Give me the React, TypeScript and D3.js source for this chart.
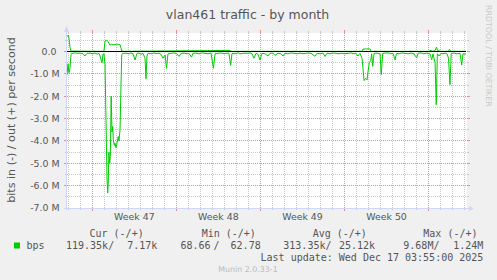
import React from "react";
import * as d3 from "d3";

// ---- data ----
const chartTitle = "vlan461 traffic - by month";
const yAxisLabel = "bits in (-) / out (+) per second";
const weekLabels = ["Week 47", "Week 48", "Week 49", "Week 50"];
const weekStarts = [0, 7, 14, 21, 28];
const yTickValues = [0, -1, -2, -3, -4, -5, -6, -7];

// days relative to Mon 17 Nov 2025 00:00, values in Mbit/s (in = negative)
const inDays = [
  -2.11, -2.02, -1.94, -1.86, -1.77, -1.69, -1.44, -1.19, -1.02, -0.77, -0.61, -0.44, -0.19, 0.06, 0.22, 0.39,
  0.56, 0.64, 0.81, 0.89, 0.97, 1.06, 1.14, 1.22, 1.28, 1.33, 1.38, 1.45, 1.5, 1.57, 1.64, 1.7, 1.75, 1.83,
  1.89, 1.97, 2.06, 2.16, 2.22, 2.31, 2.39, 2.45, 2.53, 2.81, 3.06, 3.22, 3.39, 3.56, 3.72, 3.89, 4.06, 4.22,
  4.39, 4.47, 4.55, 4.64, 4.89, 5.14, 5.39, 5.55, 5.72, 5.89, 6.06, 6.18, 6.3, 6.55, 6.8, 7.05, 7.22, 7.39,
  7.64, 7.89, 8.05, 8.26, 8.38, 8.63, 8.88, 9.13, 9.38, 9.63, 9.88, 10.09, 10.22, 10.47, 10.72, 10.97, 11.22,
  11.38, 11.52, 11.63, 11.88, 12.13, 12.38, 12.63, 12.88, 13.13, 13.3, 13.46, 13.63, 13.8, 13.96, 14.13, 14.38,
  14.63, 14.8, 15.05, 15.21, 15.46, 15.71, 15.88, 16.05, 16.3, 16.55, 16.8, 17.05, 17.29, 17.54, 17.79, 18.04,
  18.29, 18.54, 18.71, 18.96, 19.21, 19.38, 19.54, 19.79, 20.04, 20.29, 20.54, 20.79, 21.04, 21.29, 21.54,
  21.79, 21.96, 22.12, 22.29, 22.46, 22.63, 22.75, 22.88, 22.96, 23.06, 23.18, 23.26, 23.35, 23.46, 23.71,
  23.96, 24.06, 24.18, 24.37, 24.62, 24.87, 25.04, 25.21, 25.33, 25.54, 25.79, 26.04, 26.29, 26.54, 26.79,
  27.01, 27.12, 27.37, 27.62, 27.87, 28.12, 28.26, 28.37, 28.54, 28.64, 28.73, 28.87, 29.04, 29.2, 29.37,
  29.54, 29.66, 29.78, 29.89, 30.12, 30.37, 30.62, 30.76, 30.87, 31.04, 31.12,
];
const inValues = [
  -1.05, -0.55, -0.95, -0.75, -0.12, -0.08, -0.06, -0.08, -0.07, -0.1, -0.2, -0.08, -0.07, -0.1, -0.06, -0.12,
  -0.08, -0.2, -0.5, -0.12, -0.1, -0.6, -3.0, -5.6, -6.33, -5.9, -4.5, -5.0, -4.7, -2.0, -3.6, -3.35, -3.95, -4.2,
  -4.1, -4.3, -4.1, -3.8, -4.0, -3.5, -1.5, -0.15, -0.08, -0.07, -0.1, -0.06, -0.1, -0.38, -0.08, -0.07, -0.12, -0.08,
  -0.3, -1.22, -0.2, -0.08, -0.1, -0.06, -0.1, -0.07, -0.12, -0.3, -0.15, -0.75, -0.1, -0.08, -0.06, -0.1, -0.22, -0.08,
  -0.07, -0.1, -0.08, -0.25, -0.08, -0.07, -0.1, -0.06, -0.08, -0.1, -0.07, -0.75, -0.1, -0.08, -0.06, -0.1, -0.07,
  -0.08, -0.62, -0.08, -0.1, -0.06, -0.1, -0.07, -0.08, -0.06, -0.1, -0.3, -0.08, -0.12, -0.38, -0.08, -0.1,
  -0.2, -0.08, -0.07, -0.17, -0.08, -0.1, -0.2, -0.07, -0.1, -0.06, -0.08, -0.1, -0.07, -0.1, -0.08, -0.06,
  -0.1, -0.21, -0.08, -0.1, -0.07, -0.22, -0.08, -0.1, -0.06, -0.08, -0.1, -0.07, -0.1, -0.08, -0.06,
  -0.1, -0.08, -0.2, -0.08, -0.3, -1.3, -1.2, -1.27, -0.9, -0.5, -0.4, -0.1, -0.66, -0.08, -0.07,
  -0.1, -1.03, -0.08, -0.07, -0.06, -0.1, -0.08, -0.37, -0.08, -0.1, -0.06, -0.08, -0.1, -0.07, -0.1,
  -0.29, -0.08, -0.06, -0.1, -0.07, -0.1, -0.37, -0.1, -0.5, -2.38, -0.1, -0.2, -0.08, -0.1, -0.07,
  -0.1, -0.3, -1.48, -0.08, -0.07, -0.1, -0.08, -0.6, -0.1, -0.12, -0.1,
];
const outDays = [
  -2.11, -2.0, -1.94, -1.86, -1.77, 0.97, 1.06, 1.2, 1.31, 1.47, 1.62, 1.72, 1.89, 2.02, 2.16, 2.31, 2.39, 2.47,
  11.47, 11.55, 22.46, 22.54, 23.12, 23.21, 28.04, 28.12, 28.37, 28.54, 28.66, 28.74, 29.04, 29.66, 29.74,
  29.83, 31.12,
];
const outValues = [
  0.66, 0.74, 0.6, 0.2, 0.02, 0.01, 0.48, 0.51, 0.44, 0.29, 0.33, 0.3, 0.31, 0.33, 0.32, 0.31, 0.15, 0.01,
  0.05, 0.01, 0.01, 0.11, 0.12, 0.01, 0.01, 0.05, 0.01, 0.04, 0.2, 0.04, 0.01, 0.01, 0.1,
  0.01, 0.01,
];

const legendHeaders = ["Cur (-/+)", "Min (-/+)", "Avg (-/+)", "Max (-/+)"];
const legendIn = ["119.35k", "68.66", "313.35k", "9.68M"];
const legendOut = ["7.17k", "62.78", "25.12k", "1.24M"];
const seriesName = "bps";
const lastUpdate = "Last update: Wed Dec 17 03:55:00 2025";
const watermark = "Munin 2.0.33-1";
const sideText = "RRDTOOL / TOBI OETIKER";

// ---- layout ----
const W = 497;
const H = 280;
const L = 67;
const R = 467;
const T = 33;
const B = 208;
const GREEN = "#00cc00";
const FONT = "#555555";
const AXIS = "#CFD6F8";
const SANS = "'DejaVu Sans', sans-serif";
const MONO = "'DejaVu Sans Mono', monospace";

const headerX = [89.5, 201.7, 312.7, 423.3];
const inX = [66, 180.5, 283.3, 403.3];
const slashX = [108.2, 213.5, 325.5, 433.5];
const outEndX = [157.3, 260.7, 375, 483.3];

export default function App() {
  const x = d3.scaleLinear().domain([-2.107, 31.2]).range([L, R]);
  const y = d3.scaleLinear().domain([-7, 0.83]).range([B, T]);
  const px = (v: number) => Math.round(v - 0.5) + 0.5;

  const inPts: [number, number][] = inDays.map((d, i) => [d, inValues[i]]);
  const outPts: [number, number][] = outDays.map((d, i) => [d, outValues[i]]);
  const line = d3
    .line<[number, number]>()
    .x((d) => x(d[0]))
    .y((d) => y(d[1]));

  const minorY = d3.range(-7, 0.83, 0.5).filter((v) => Math.abs(v - Math.round(v)) > 0.01);
  const majorY = yTickValues;
  const [d0, d1] = x.domain();
  const minorX = d3.range(Math.ceil(d0), Math.floor(d1) + 1).filter((d) => !weekStarts.includes(d));

  const minorCol = "#c8c8c8";
  const majorCol = "#f08888";

  return (
    <svg width={W} height={H} style={{ display: "block", position: "absolute", left: 0, top: 0 }}>
      <rect x={0} y={0} width={W} height={H} fill="#f0f0f0" />
      <rect x={L} y={T} width={R - L} height={B - T} fill="#ffffff" />

      <g shapeRendering="crispEdges">
        {minorY.map((v) => (
          <g key={"my" + v}>
            <line x1={L} x2={R} y1={px(y(v))} y2={px(y(v))} stroke={minorCol} strokeDasharray="1,1" />
            <line x1={L - 2} x2={L} y1={px(y(v))} y2={px(y(v))} stroke={minorCol} />
            <line x1={R} x2={R + 2} y1={px(y(v))} y2={px(y(v))} stroke={minorCol} />
          </g>
        ))}
        {minorX.map((d) => (
          <g key={"mx" + d}>
            <line x1={px(x(d))} x2={px(x(d))} y1={T} y2={B} stroke={minorCol} strokeDasharray="1,1" />
            <line x1={px(x(d))} x2={px(x(d))} y1={B} y2={B + 2} stroke={minorCol} />
            <line x1={px(x(d))} x2={px(x(d))} y1={T - 2} y2={T} stroke={minorCol} />
          </g>
        ))}
        {majorY.map((v) => (
          <g key={"My" + v}>
            <line x1={L} x2={R} y1={px(y(v))} y2={px(y(v))} stroke={majorCol} strokeDasharray="1,1" />
            <line x1={L - 3} x2={L} y1={px(y(v))} y2={px(y(v))} stroke={majorCol} />
            <line x1={R} x2={R + 3} y1={px(y(v))} y2={px(y(v))} stroke={majorCol} />
          </g>
        ))}
        {weekStarts.map((d) => (
          <g key={"Mx" + d}>
            <line x1={px(x(d))} x2={px(x(d))} y1={T} y2={B} stroke={majorCol} strokeDasharray="1,1" />
            <line x1={px(x(d))} x2={px(x(d))} y1={B} y2={B + 3} stroke={majorCol} />
            <line x1={px(x(d))} x2={px(x(d))} y1={T - 3} y2={T} stroke={majorCol} />
          </g>
        ))}
      </g>

      <path d={line(outPts) || ""} fill="none" stroke={GREEN} strokeWidth={1} />
      <path d={line(inPts) || ""} fill="none" stroke={GREEN} strokeWidth={1} />

      <line x1={L} x2={R - 1} y1={px(y(0))} y2={px(y(0))} stroke="#000" strokeWidth={1} shapeRendering="crispEdges" />

      {/* axes */}
      <line x1={L - 0.5} x2={L - 0.5} y1={B + 2} y2={T - 3} stroke={AXIS} shapeRendering="crispEdges" />
      <line x1={L - 3} x2={R + 4} y1={B + 0.5} y2={B + 0.5} stroke={AXIS} shapeRendering="crispEdges" />
      <polygon points={`${L - 3},${T - 1} ${L + 2},${T - 1} ${L - 0.5},${T - 7}`} fill={AXIS} />
      <polygon points={`${R + 2},${B - 2} ${R + 2},${B + 3} ${R + 7},${B + 0.5}`} fill={AXIS} />

      {/* y tick labels */}
      {yTickValues.map((v) => (
        <text
          key={"yt" + v}
          x={59.5}
          y={y(v)}
          dy="0.36em"
          textAnchor="end"
          fontFamily={SANS}
          fontSize={9.4}
          fill={FONT}
          style={{ whiteSpace: "pre" }}
        >
          {v === 0 ? "0.0\u00A0" : `${v.toFixed(1)} M`}
        </text>
      ))}

      {/* x labels */}
      {weekLabels.map((lab, i) => (
        <text
          key={lab}
          x={x(weekStarts[i] + 3.5)}
          y={220}
          textAnchor="middle"
          fontFamily={SANS}
          fontSize={9.4}
          fill={FONT}
        >
          {lab}
        </text>
      ))}

      {/* title */}
      <text x={247.5} y={19} textAnchor="middle" fontFamily={SANS} fontSize={12.5} fill={FONT}>
        {chartTitle}
      </text>

      {/* y axis label */}
      <text
        transform={`translate(15,120) rotate(-90)`}
        textAnchor="middle"
        fontFamily={SANS}
        fontSize={11.1}
        fill={FONT}
      >
        {yAxisLabel}
      </text>

      {/* side text */}
      <text
        transform={`translate(486,5) rotate(90)`}
        textAnchor="start"
        fontFamily={SANS}
        fontSize={7.9}
        fill="#c8c8c8"
      >
        {sideText}
      </text>

      {/* legend */}
      {legendHeaders.map((h, i) => (
        <text key={h} x={headerX[i]} y={236.5} fontFamily={MONO} fontSize={10} fill={FONT}>
          {h}
        </text>
      ))}
      <rect x={14} y={242.5} width={6} height={6} fill={GREEN} />
      <text x={26.5} y={249} fontFamily={MONO} fontSize={10} fill={FONT}>
        {seriesName}
      </text>
      {legendIn.map((v, i) => (
        <g key={"lg" + i}>
          <text x={inX[i]} y={249} fontFamily={MONO} fontSize={10} fill={FONT}>
            {v}
          </text>
          <text x={slashX[i]} y={249} fontFamily={MONO} fontSize={10} fill={FONT}>
            /
          </text>
          <text x={outEndX[i]} y={249} textAnchor="end" fontFamily={MONO} fontSize={10} fill={FONT}>
            {legendOut[i]}
          </text>
        </g>
      ))}
      <text x={483.3} y={260.5} textAnchor="end" fontFamily={MONO} fontSize={10} fill={FONT}>
        {lastUpdate}
      </text>

      <text x={248} y={271.5} textAnchor="middle" fontFamily={SANS} fontSize={7.9} fill="#bbbbbb">
        {watermark}
      </text>
    </svg>
  );
}
